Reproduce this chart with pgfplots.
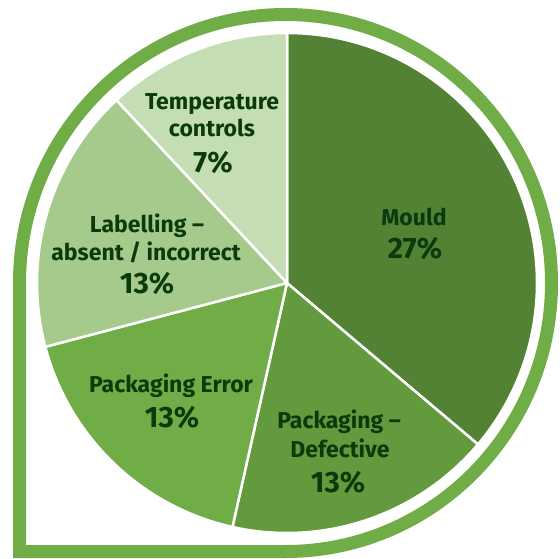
\documentclass[border=0pt]{standalone}
\usepackage{pgfplots}
\pgfplotsset{compat=1.18}
\usepackage{fontspec}
\setmainfont{Fira Sans}
\definecolor{cMould}{HTML}{548235}
\definecolor{cDef}{HTML}{629A3D}
\definecolor{cErr}{HTML}{70AD47}
\definecolor{cLab}{HTML}{A6CA8C}
\definecolor{cTemp}{HTML}{C5DDB5}
\definecolor{cRing}{HTML}{70AD47}
\definecolor{cText}{HTML}{0B3A0B}
\begin{document}
\begin{tikzpicture}
\begin{axis}[
  x=1pt, y=1pt,
  xmin=0, xmax=560, ymin=0, ymax=558,
  hide axis, clip=false,
]
\path (axis cs:0,0) rectangle (axis cs:560,558);
% outer ring (teardrop outline)
\begin{scope}
\clip (axis cs:0,0) rectangle (axis cs:560,558);
\draw[cRing, line width=13pt, line join=miter]
  (axis cs:19.5,275) arc[start angle=180, end angle=-90, x radius=266pt, y radius=268.5pt]
  -- (axis cs:19.5,6.5) -- cycle;
\end{scope}
% slices: boundaries in degrees (clockwise from top)
\filldraw[fill=cMould, draw=white, line width=2.5pt, line join=round]
  (axis cs:287,275) -- ++(90:250pt) arc[start angle=90, end angle=-40.2, radius=250pt] -- cycle;
\filldraw[fill=cDef, draw=white, line width=2.5pt, line join=round]
  (axis cs:287,275) -- ++(-40.2:250pt) arc[start angle=-40.2, end angle=-102.6, radius=250pt] -- cycle;
\filldraw[fill=cErr, draw=white, line width=2.5pt, line join=round]
  (axis cs:287,275) -- ++(-102.6:250pt) arc[start angle=-102.6, end angle=-165.2, radius=250pt] -- cycle;
\filldraw[fill=cLab, draw=white, line width=2.5pt, line join=round]
  (axis cs:287,275) -- ++(-165.2:250pt) arc[start angle=-165.2, end angle=-227, radius=250pt] -- cycle;
\filldraw[fill=cTemp, draw=white, line width=2.5pt, line join=round]
  (axis cs:287,275) -- ++(-227:250pt) arc[start angle=-227, end angle=-270, radius=250pt] -- cycle;
% labels
\begin{scope}[every node/.style={text=cText, font=\bfseries\fontsize{23}{25}\selectfont, anchor=base, inner sep=0pt}]
\node at (axis cs:212,448) {Temperature};
\node at (axis cs:212,421) {controls};
\node[font=\bfseries\fontsize{29.5}{31}\selectfont] at (axis cs:213,385) {7\%};
\node at (axis cs:147,325) {Labelling --};
\node at (axis cs:146,298) {absent / incorrect};
\node[font=\bfseries\fontsize{29.5}{31}\selectfont] at (axis cs:147,265) {13\%};
\node at (axis cs:171,166) {Packaging Error};
\node[font=\bfseries\fontsize{29.5}{31}\selectfont] at (axis cs:172,131) {13\%};
\node at (axis cs:339,130) {Packaging --};
\node at (axis cs:340,101) {Defective};
\node[font=\bfseries\fontsize{29.5}{31}\selectfont] at (axis cs:338,66) {13\%};
\node at (axis cs:414,332) {Mould};
\node[font=\bfseries\fontsize{29.5}{31}\selectfont] at (axis cs:415,299) {27\%};
\end{scope}
\end{axis}
\end{tikzpicture}
\end{document}
